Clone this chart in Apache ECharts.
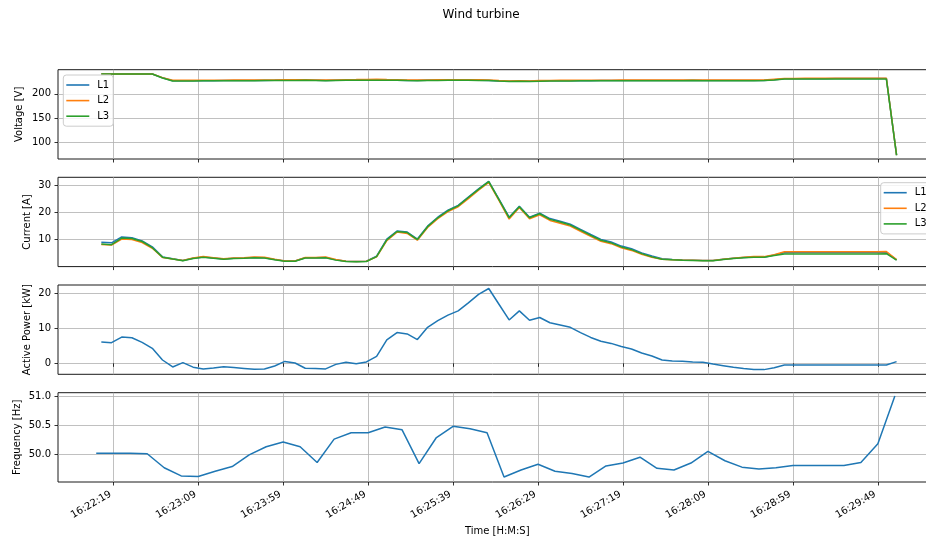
<!DOCTYPE html>
<html>
<head>
<meta charset="utf-8">
<title>Wind turbine</title>
<script src="https://cdn.jsdelivr.net/npm/echarts@6/dist/echarts.min.js"></script>
<style>
  html, body { margin: 0; padding: 0; background: #fff; overflow: hidden; }
  #chart { width: 926px; height: 541px; }
</style>
</head>
<body>
<div id="chart"></div>
<script>
// Sample timestamps of the 6-second log (voltage, current, active power)
const sampleTimes = [
  "16:22:12","16:22:18","16:22:24","16:22:30","16:22:36","16:22:42","16:22:48","16:22:54",
  "16:23:00","16:23:06","16:23:12","16:23:18","16:23:24","16:23:30","16:23:36","16:23:42","16:23:48","16:23:54",
  "16:24:00","16:24:06","16:24:12","16:24:18","16:24:24","16:24:30","16:24:36","16:24:42","16:24:48","16:24:54",
  "16:25:00","16:25:06","16:25:12","16:25:18","16:25:24","16:25:30","16:25:36","16:25:42","16:25:48","16:25:54",
  "16:26:00","16:26:06","16:26:12","16:26:18","16:26:24","16:26:30","16:26:36","16:26:42","16:26:48","16:26:54",
  "16:27:00","16:27:06","16:27:12","16:27:18","16:27:24","16:27:30","16:27:36","16:27:42","16:27:48","16:27:54",
  "16:28:00","16:28:06","16:28:12","16:28:18","16:28:24","16:28:30","16:28:36","16:28:42","16:28:48","16:28:54",
  "16:29:00","16:29:06","16:29:12","16:29:18","16:29:24","16:29:30","16:29:36","16:29:42","16:29:48","16:29:54",
  "16:30:00"
];

// Timestamps of the 10-second frequency log
const freqTimes = [
  "16:22:09","16:22:19","16:22:29","16:22:39","16:22:49","16:22:59",
  "16:23:09","16:23:19","16:23:29","16:23:39","16:23:49","16:23:59",
  "16:24:09","16:24:19","16:24:29","16:24:39","16:24:49","16:24:59",
  "16:25:09","16:25:19","16:25:29","16:25:39","16:25:49","16:25:59",
  "16:26:09","16:26:19","16:26:29","16:26:39","16:26:49","16:26:59",
  "16:27:09","16:27:19","16:27:29","16:27:39","16:27:49","16:27:59",
  "16:28:09","16:28:19","16:28:29","16:28:39","16:28:49","16:28:59",
  "16:29:09","16:29:19","16:29:29","16:29:39","16:29:49","16:29:59"
];

// Phase voltages [V]
const voltageL1 = [
  241.1,241.1,241.1,241.1,241.1,241.1,233.2,
  227.1,227.2,227.3,227.4,227.4,227.5,
  227.6,227.7,227.8,227.9,228.0,228.2,228.3,228.4,
  228.0,227.6,228.0,228.4,228.5,228.7,228.8,228.6,228.4,
  227.9,227.6,228.0,228.3,228.4,228.4,228.4,228.2,227.9,
  226.8,226.0,226.4,226.0,226.7,
  227.0,227.2,227.3,227.4,227.4,227.5,227.5,227.6,227.6,227.7,227.7,227.7,
  227.8,227.8,227.9,227.8,227.7,227.6,227.6,227.6,227.7,227.9,229.4,
  231.4,231.4,231.5,231.5,231.5,231.6,231.6,231.6,231.7,231.8,231.8,
  73.4
];
const voltageL2 = [
  241.1,241.1,241.1,241.1,241.1,241.1,233.6,
  228.0,228.1,228.2,228.3,228.3,228.4,
  228.5,228.6,228.7,228.8,228.9,229.1,229.2,229.3,
  228.9,228.5,228.9,229.3,229.5,229.8,230.3,229.6,229.3,
  228.8,228.5,228.9,229.2,229.3,229.3,229.3,229.1,228.8,
  227.7,226.9,227.3,226.9,227.6,
  227.9,228.1,228.2,228.3,228.3,228.4,228.4,228.5,228.5,228.6,228.6,228.6,
  228.7,228.7,228.8,228.7,228.6,228.5,228.5,228.5,228.6,228.8,230.4,
  232.0,232.0,232.1,232.1,232.1,232.2,232.2,232.2,232.3,232.4,232.4,
  73.5
];
const voltageL3 = [
  241.1,241.1,241.1,241.1,241.1,241.1,233.0,
  226.7,226.8,226.9,227.0,227.0,227.1,
  227.2,227.3,227.4,227.5,227.6,227.8,227.9,228.0,
  227.6,227.2,227.6,228.0,228.1,228.3,228.4,228.2,228.0,
  227.5,227.2,227.6,227.9,228.0,228.0,228.0,227.8,227.5,
  226.4,225.6,226.0,225.6,226.3,
  226.6,226.8,226.9,227.0,227.0,227.1,227.1,227.2,227.2,227.3,227.3,227.3,
  227.4,227.4,227.5,227.4,227.3,227.2,227.2,227.2,227.3,227.5,228.8,
  230.6,230.6,230.7,230.7,230.7,230.8,230.8,230.8,230.9,231.0,231.0,
  73.3
];

// Phase currents [A]
const currentL1 = [
  9.0,8.8,11.0,10.7,9.5,7.3,3.6,2.9,2.3,3.1,
  3.6,3.2,2.8,3.1,3.2,3.4,3.3,2.6,2.1,2.1,
  3.3,3.3,3.4,2.5,2.0,1.9,2.0,3.9,10.2,13.2,
  12.8,10.2,15.0,18.3,20.9,22.7,25.8,28.8,31.6,25.0,
  18.3,22.4,18.3,19.8,17.8,16.8,15.7,13.8,11.9,10.1,
  9.1,7.6,6.6,5.1,3.9,2.9,2.6,2.45,2.4,2.3,
  2.3,2.7,3.1,3.4,3.6,3.5,4.3,5.1,5.2,5.2,
  5.2,5.2,5.2,5.2,5.2,5.2,5.2,5.3,
  2.5
];
const currentL2 = [
  8.2,8.0,10.2,10.0,8.9,6.8,3.4,2.8,2.3,3.2,
  3.7,3.3,2.9,3.2,3.3,3.6,3.5,2.7,2.1,2.1,
  3.4,3.4,3.6,2.6,2.0,1.9,2.0,3.6,9.6,12.8,
  12.3,9.8,14.5,17.8,20.4,22.2,25.2,28.3,31.2,24.5,
  17.6,21.9,17.7,19.2,17.1,16.1,15.0,13.1,11.2,9.4,
  8.5,7.0,6.0,4.6,3.5,2.7,2.5,2.4,2.35,2.3,
  2.3,2.7,3.1,3.5,3.7,3.7,4.4,5.5,5.5,5.5,
  5.5,5.5,5.5,5.5,5.5,5.5,5.5,5.6,
  2.6
];
const currentL3 = [
  8.4,8.1,10.6,10.4,9.3,7.0,3.5,2.8,2.2,3.0,
  3.5,3.1,2.7,3.0,3.1,3.3,3.2,2.5,2.0,2.0,
  3.2,3.2,3.3,2.4,1.9,1.8,1.9,3.7,9.9,13.0,
  12.6,10.0,14.8,18.1,20.7,22.5,25.6,28.6,31.5,24.8,
  18.1,22.2,18.1,19.6,17.5,16.5,15.4,13.5,11.6,9.75,
  8.8,7.3,6.3,4.8,3.6,2.7,2.5,2.35,2.3,2.2,
  2.2,2.6,3.0,3.3,3.5,3.5,4.1,4.7,4.7,4.7,
  4.7,4.7,4.7,4.7,4.7,4.7,4.7,4.8,
  2.4
];

// Active power [kW]
const activePower = [
  6.1,5.9,7.5,7.3,6.0,4.3,0.95,-1.05,0.2,-1.1,
  -1.6,-1.35,-1.0,-1.2,-1.45,-1.7,-1.6,-0.75,0.55,0.1,
  -1.4,-1.45,-1.6,-0.3,0.3,-0.1,0.4,2.0,6.7,8.8,
  8.4,6.8,10.3,12.2,13.8,15.0,17.3,19.7,21.4,16.9,
  12.4,15.0,12.3,13.1,11.6,10.95,10.3,8.8,7.4,6.3,
  5.7,4.8,4.1,2.95,2.1,0.95,0.67,0.57,0.38,0.29,
  -0.2,-0.67,-1.14,-1.5,-1.8,-1.8,-1.24,-0.48,-0.48,-0.48,
  -0.48,-0.48,-0.48,-0.48,-0.48,-0.48,-0.48,-0.48,
  0.48
];

// Grid frequency [Hz]
const frequency = [
  50.02,50.02,50.02,50.01,49.77,49.63,49.62,49.71,49.79,49.99,
  50.13,50.21,50.13,49.86,50.26,50.37,50.37,50.47,50.42,49.84,
  50.28,50.48,50.44,50.37,49.61,49.73,49.83,49.71,49.67,49.61,
  49.80,49.85,49.95,49.76,49.73,49.85,50.05,49.89,49.78,49.75,
  49.77,49.81,49.81,49.81,49.81,49.86,50.18,51.00
];

// Axis tick labels
const timeTicks = ["16:22:19","16:23:09","16:23:59","16:24:49","16:25:39",
                   "16:26:29","16:27:19","16:28:09","16:28:59","16:29:49"];
const voltageTicks = [100, 150, 200];
const currentTicks = [10, 20, 30];
const powerTicks = [0, 10, 20];
const freqTicks = [50.0, 50.5, 51.0];
const phaseNames = ["L1", "L2", "L3"];

// ---------------------------------------------------------------------------
const FONT = "DejaVu Sans";
const COLORS = ["#1f77b4", "#ff7f0e", "#2ca02c"];
const GRID_COLOR = "#b0b0b0";

function toSec(hms) {
  const p = hms.split(":").map(Number);
  return p[0] * 3600 + p[1] * 60 + p[2];
}
function fmtTime(sec) {
  const s = Math.round(sec);
  const h = Math.floor(s / 3600), m = Math.floor((s % 3600) / 60), ss = s % 60;
  const pad = v => (v < 10 ? "0" : "") + v;
  return h + ":" + pad(m) + ":" + pad(ss);
}
function pairs(times, values) {
  return times.map((t, i) => [toSec(t), values[i]]);
}

const tickSecs = timeTicks.map(toSec);
const firstSec = toSec(freqTimes[0]);
const lastSec = toSec(sampleTimes[sampleTimes.length - 1]);
const X_MIN = firstSec - 22.5;
const X_MAX = lastSec + 23.5;

// four stacked panels sharing the time axis; the plot area runs past the right edge
const PANEL_TOP = [69.7, 177.3, 285, 392.7];
const PANEL_H = 89.3;
const GRID_LEFT = 58;
const GRID_WIDTH = 878.5;

const grids = PANEL_TOP.map(top => ({
  left: GRID_LEFT, width: GRID_WIDTH, top: top, height: PANEL_H,
  outerBoundsMode: "none", containLabel: false,
  show: true, borderColor: "#1a1a1a", borderWidth: 1, backgroundColor: "transparent"
}));

function xAxisFor(i, withLabels) {
  return {
    type: "value", gridIndex: i, min: X_MIN, max: X_MAX,
    axisLine: { show: false },
    axisTick: { show: true, length: 3.5, customValues: tickSecs,
                lineStyle: { color: "#000", width: 0.8 } },
    axisLabel: { show: withLabels, customValues: tickSecs, formatter: v => fmtTime(v),
                 rotate: 30, margin: 10, padding: [0, 3, 0, 0],
                 fontSize: 10, color: "#000", fontFamily: FONT },
    splitLine: { show: true, lineStyle: { color: GRID_COLOR, width: 0.8 } },
    name: withLabels ? "Time [H:M:S]" : "",
    nameLocation: "middle", nameGap: 44, nameMoveOverlap: false,
    nameTextStyle: { fontSize: 10, color: "#000", fontFamily: FONT }
  };
}

function yAxisFor(i, name, gap, min, max, ticks, fmt) {
  return {
    type: "value", gridIndex: i, min: min, max: max,
    axisLine: { show: false },
    axisTick: { show: true, length: 3.5, customValues: ticks,
                lineStyle: { color: "#000", width: 0.8 } },
    axisLabel: { customValues: ticks, formatter: fmt || (v => String(v)),
                 margin: 7, fontSize: 10, color: "#000", fontFamily: FONT },
    splitLine: { show: true, lineStyle: { color: GRID_COLOR, width: 0.8 } },
    name: name, nameLocation: "middle", nameRotate: 90, nameGap: gap,
    nameMoveOverlap: false,
    nameTextStyle: { fontSize: 10, color: "#000", fontFamily: FONT }
  };
}

function lineSeries(name, axisIndex, data, color) {
  return {
    type: "line", name: name, xAxisIndex: axisIndex, yAxisIndex: axisIndex,
    data: data, symbol: "none", showSymbol: false,
    lineStyle: { color: color, width: 1.5 }, itemStyle: { color: color },
    emphasis: { disabled: true }, animation: false
  };
}

const legendCommon = {
  data: phaseNames, orient: "vertical",
  icon: "rect", itemWidth: 23, itemHeight: 1.6, itemGap: 5.6,
  padding: [5, 4, 5, 3],
  backgroundColor: "rgba(255,255,255,0.8)",
  borderColor: "#cccccc", borderWidth: 1, borderRadius: 3,
  textStyle: { fontSize: 10, color: "#000", fontFamily: FONT, padding: [0, 0, 0, 3] },
  selectedMode: false
};

const voltageSets = [voltageL1, voltageL2, voltageL3];
const currentSets = [currentL1, currentL2, currentL3];

const series = [];
phaseNames.forEach((n, i) => series.push(lineSeries(n, 0, pairs(sampleTimes, voltageSets[i]), COLORS[i])));
phaseNames.forEach((n, i) => series.push(lineSeries(n, 1, pairs(sampleTimes, currentSets[i]), COLORS[i])));
series.push(lineSeries("Active Power", 2, pairs(sampleTimes, activePower), COLORS[0]));
series.push(lineSeries("Frequency", 3, pairs(freqTimes, frequency), COLORS[0]));

const option = {
  backgroundColor: "#ffffff",
  animation: false,
  textStyle: { fontFamily: FONT },
  title: {
    text: "Wind turbine", left: 442.5, top: 9, padding: 0,
    textStyle: { fontSize: 12, fontWeight: "normal", color: "#000", fontFamily: FONT }
  },
  legend: [
    Object.assign({}, legendCommon, { left: 63.3, top: 75 }),
    Object.assign({}, legendCommon, { left: 880.7, top: 182.7 })
  ],
  grid: grids,
  xAxis: [xAxisFor(0, false), xAxisFor(1, false), xAxisFor(2, false), xAxisFor(3, true)],
  yAxis: [
    yAxisFor(0, "Voltage [V]", 33.5, 65.5, 250, voltageTicks),
    yAxisFor(1, "Current [A]", 26, 0, 33.1, currentTicks),
    yAxisFor(2, "Active Power [kW]", 26, -3.14, 22.4, powerTicks),
    yAxisFor(3, "Frequency [Hz]", 36, 49.525, 51.057, freqTicks, v => v.toFixed(1))
  ],
  series: series
};

const chart = echarts.init(document.getElementById("chart"), null, { renderer: "canvas" });
chart.setOption(option);
</script>
</body>
</html>
